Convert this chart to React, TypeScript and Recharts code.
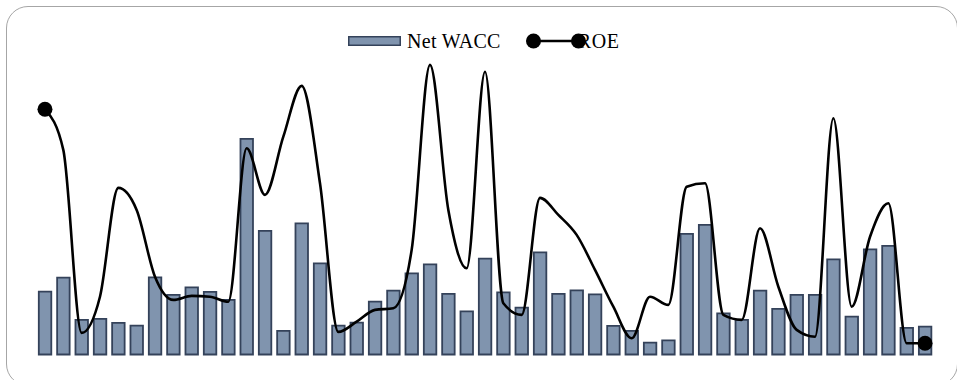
import { ComposedChart, Bar, Line, XAxis, YAxis, Legend } from "recharts";

// periods (no axis labels are shown in the chart)
const periods = Array.from({ length: 49 }, (_, i) => `P${i + 1}`);

const netWacc = [
  3.14, 3.84, 1.73, 1.78, 1.58, 1.44, 3.86, 2.98, 3.36, 3.13,
  2.73, 10.78, 6.18, 1.18, 6.56, 4.56, 1.44, 1.59, 2.64, 3.19,
  4.06, 4.51, 3.03, 2.16, 4.79, 3.11, 2.34, 5.11, 3.03, 3.21,
  3.01, 1.43, 1.18, 0.59, 0.71, 6.03, 6.48, 2.06, 1.73, 3.19,
  2.28, 2.98, 2.98, 4.76, 1.89, 5.26, 5.43, 1.33, 1.39,
];

const roe = [
  12.26, 10.23, 1.08, 2.89, 8.33, 7.23, 3.89, 2.73, 2.93, 2.89,
  2.64, 10.31, 7.98, 10.89, 13.43, 8.56, 1.13, 1.64, 2.23, 2.31,
  5.23, 14.48, 7.23, 4.31, 14.14, 2.56, 1.98, 7.83, 6.98, 5.98,
  4.23, 2.39, 0.81, 2.89, 2.48, 8.39, 8.56, 1.98, 1.73, 6.31,
  3.39, 1.23, 0.89, 11.81, 2.39, 5.89, 7.56, 0.56, 0.56,
];

const data = periods.map((p, i) => ({ period: p, wacc: netWacc[i], roe: roe[i] }));

const BAR_FILL = "#8094ae";
const BAR_STROKE = "#34425a";
const FONT = '"Liberation Serif", "Times New Roman", serif';

function EndDot(props: any) {
  const { cx, cy, index } = props;
  if (index !== 0 && index !== data.length - 1) return <g key={`d${index}`} />;
  return <circle key={`d${index}`} cx={cx} cy={cy} r={7.5} fill="#000" />;
}

function LegendBox() {
  return (
    <div style={{ display: "flex", alignItems: "center", fontFamily: FONT, fontSize: 20, color: "#000", height: 24 }}>
      <svg width={53} height={10} style={{ display: "block" }}>
        <rect x={0.75} y={0.75} width={51.5} height={8.5} fill={BAR_FILL} stroke={BAR_STROKE} strokeWidth={1.5} />
      </svg>
      <span style={{ marginLeft: 6, letterSpacing: 0.3 }}>Net WACC</span>
      <svg width={62} height={18} style={{ display: "block", marginLeft: 25, position: "relative", zIndex: 1 }}>
        <line x1={7.5} y1={9} x2={52.5} y2={9} stroke="#000" strokeWidth={2.5} />
        <circle cx={7.5} cy={9} r={7.5} fill="#000" />
        <circle cx={52.5} cy={9} r={7.5} fill="#000" />
      </svg>
      <span style={{ marginLeft: -10, letterSpacing: 0.6 }}>ROE</span>
    </div>
  );
}

export default function App() {
  return (
    <div style={{ position: "absolute", left: 0, top: 0, width: 957, height: 380, overflow: "hidden", background: "#fff" }}>
      <div
        style={{
          position: "absolute",
          left: 6,
          top: 6,
          width: 952,
          height: 380,
          boxSizing: "border-box",
          border: "1px solid #a6a6a6",
          borderRadius: 22,
        }}
      />
      <div style={{ position: "absolute", left: 0, top: 0 }}>
        <ComposedChart
          width={957}
          height={380}
          data={data}
          margin={{ top: 60, right: 22.8, bottom: 25.5, left: 35.8 }}
        >
          <XAxis dataKey="period" hide />
          <YAxis hide domain={[0, 14.725]} />
          <Legend
            layout="horizontal"
            verticalAlign="middle"
            align="center"
            wrapperStyle={{ top: 29, left: 348, width: 320 }}
            content={() => <LegendBox />}
          />
          <Bar
            dataKey="wacc"
            name="Net WACC"
            barSize={12.5}
            fill={BAR_FILL}
            stroke={BAR_STROKE}
            strokeWidth={1.8}
            isAnimationActive={false}
          />
          <Line
            dataKey="roe"
            name="ROE"
            type="monotone"
            stroke="#000"
            strokeWidth={2.6}
            dot={EndDot}
            activeDot={false}
            isAnimationActive={false}
          />
        </ComposedChart>
      </div>
    </div>
  );
}
